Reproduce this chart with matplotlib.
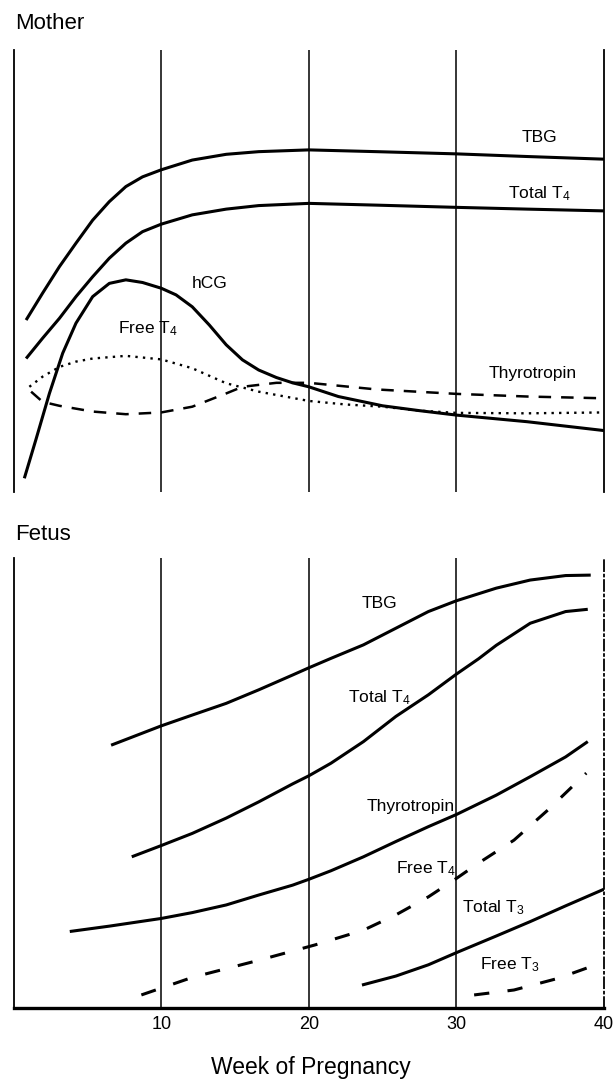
import matplotlib
matplotlib.use("Agg")
import matplotlib.pyplot as plt

plt.rcParams["font.family"] = ["Liberation Sans", "DejaVu Sans"]
plt.rcParams["mathtext.default"] = "regular"

# relative levels (0-100 of panel height), x = week of pregnancy
# --- mother ---
m_tbg_wk = [0.84, 1.96, 3.1, 4.22, 5.35, 6.48, 7.6, 8.73, 10, 12.1, 14.4, 16.6, 20, 24.6, 30, 34.8, 40]
m_tbg = [38.9, 45.0, 51.0, 56.3, 61.5, 65.7, 69.1, 71.3, 72.9, 75.1, 76.4, 77.0, 77.4, 77.0, 76.5, 75.9, 75.3]

m_tt4_wk = [0.84, 1.96, 3.1, 4.22, 5.35, 6.48, 7.6, 8.73, 10, 12.1, 14.4, 16.6, 20, 24.6, 30, 34.8, 40]
m_tt4 = [30.2, 34.8, 39.3, 44.2, 48.7, 52.9, 56.3, 58.9, 60.6, 62.7, 64.0, 64.8, 65.3, 64.9, 64.4, 64.0, 63.6]

m_hcg_wk = [0.72, 1.5, 2.42, 3.32, 4.22, 5.35, 6.48, 7.6, 8.73, 10, 11, 12.1, 13.25, 14.4, 15.5,
            16.6, 17.8, 18.9, 20, 22, 25, 27.5, 30, 34.8, 40]
m_hcg = [3.1, 11.8, 22.3, 31.4, 38.2, 44.2, 47.2, 48.0, 47.4, 46.1, 44.6, 41.9, 37.8, 33.3, 29.9,
         27.6, 25.9, 24.7, 23.8, 21.6, 19.5, 18.4, 17.4, 15.9, 13.9]

m_ft4_wk = [1.06, 1.96, 3.1, 4.22, 5.35, 7.6, 10, 12.1, 14.4, 16.6, 20, 22.5, 25, 27.5, 30, 34.8, 40]
m_ft4 = [23.8, 26.1, 28.3, 29.5, 30.2, 30.8, 30.0, 28.0, 24.6, 22.7, 20.6, 19.8, 19.3, 18.4, 17.9, 17.8, 18.0]

m_tsh_wk = [1.18, 1.96, 3.1, 5.35, 7.6, 10, 12.1, 14.4, 15.5, 17.8, 20, 24.6, 30, 34.8, 40]
m_tsh = [22.7, 20.4, 19.5, 18.2, 17.6, 18.0, 19.3, 22.3, 23.8, 24.7, 24.7, 23.2, 22.2, 21.6, 21.2]

# --- fetus ---
f_tbg_wk = [6.6, 10, 12.1, 14.4, 16.6, 18.9, 20, 21.5, 23.7, 25.9, 28.1, 30, 32.7, 35, 37.4, 39.1]
f_tbg = [58.4, 62.7, 65.1, 67.7, 70.7, 74.0, 75.6, 77.7, 80.7, 84.4, 88.1, 90.5, 93.3, 95.1, 96.1, 96.2]

f_tt4_wk = [8.0, 10, 12.1, 14.4, 16.6, 18.9, 20, 21.5, 23.7, 25.9, 28.1, 30, 31.5, 32.7, 35, 37.4, 38.9]
f_tt4 = [33.6, 36.1, 38.8, 42.2, 45.8, 49.8, 51.6, 54.4, 59.2, 64.8, 69.6, 74.2, 77.6, 80.6, 85.5, 88.1, 88.6]

f_tsh_wk = [3.8, 6.5, 10, 12.1, 14.4, 16.6, 18.9, 20, 21.5, 23.7, 25.9, 28.1, 30, 32.7, 35, 37.4, 38.9]
f_tsh = [17.0, 18.2, 19.9, 21.2, 22.9, 25.1, 27.3, 28.6, 30.5, 33.6, 37.0, 40.3, 43.0, 47.3, 51.4, 55.8, 59.2]

f_ft4_wk = [8.65, 12.1, 16.6, 20.4, 23.7, 25.9, 28.1, 30, 31.5, 33.9, 36.2, 38.8]
f_ft4 = [2.9, 6.8, 10.6, 14.0, 17.3, 20.7, 24.7, 28.8, 32.2, 37.3, 44.0, 52.2]

f_tt3_wk = [23.6, 25.9, 28.1, 30, 32.7, 35, 37.4, 40]
f_tt3 = [5.1, 7.1, 9.6, 12.3, 16.0, 19.2, 22.7, 26.4]

f_ft3_wk = [31.2, 33.9, 36.9, 39.7]
f_ft3 = [2.9, 4.0, 6.6, 9.9]

week_ticks = [10, 20, 30, 40]

SOLID = dict(color="black", lw=2.2, solid_capstyle="butt", solid_joinstyle="round")
LAB = dict(fontsize=12.5, ha="center", va="center")


def setup_panel(ax, bottom_spine):
    ax.set_xlim(0, 40)
    ax.set_ylim(0, 100)
    for x in week_ticks[:-1]:
        ax.axvline(x, color="black", lw=1.1)
    ax.spines["top"].set_visible(False)
    ax.spines["bottom"].set_visible(bottom_spine)
    ax.spines["left"].set_linewidth(1.3)
    ax.spines["right"].set_linewidth(1.3)
    ax.set_yticks([])


W, H = 613, 1084
fig = plt.figure(figsize=(W / 100, H / 100), dpi=100)
ax_m = fig.add_axes([13.7 / W, 1 - 492 / H, 590.3 / W, 442 / H])
ax_f = fig.add_axes([13.7 / W, 1 - 1008 / H, 590.3 / W, 450 / H])

fig.text(15 / W, 1 - 29 / H, "Mother", fontsize=16, ha="left", va="baseline")
fig.text(15 / W, 1 - 540 / H, "Fetus", fontsize=16, ha="left", va="baseline")

# mother
setup_panel(ax_m, False)
ax_m.set_xticks([])
ax_m.plot(m_tbg_wk, m_tbg, **SOLID)
ax_m.plot(m_tt4_wk, m_tt4, **SOLID)
ax_m.plot(m_hcg_wk, m_hcg, **SOLID)
ax_m.plot(m_ft4_wk, m_ft4, color="black", lw=1.7, linestyle=(0, (1, 2.2)))
ax_m.plot(m_tsh_wk, m_tsh, color="black", lw=1.8, linestyle=(0, (5, 4)))
ax_m.text(35.6, 80.1, "TBG", **LAB)
ax_m.text(35.6, 67.6, "Total T$_4$", **LAB)
ax_m.text(13.3, 47.2, "hCG", **LAB)
ax_m.text(9.1, 37.0, "Free T$_4$", **LAB)
ax_m.text(35.2, 26.9, "Thyrotropin", **LAB)

# fetus
setup_panel(ax_f, True)
ax_f.spines["bottom"].set_linewidth(2.4)
ax_f.spines["right"].set_linestyle((0, (6, 2, 1, 2)))
ax_f.plot(f_tbg_wk, f_tbg, **SOLID)
ax_f.plot(f_tt4_wk, f_tt4, **SOLID)
ax_f.plot(f_tsh_wk, f_tsh, **SOLID)
ax_f.plot(f_tt3_wk, f_tt3, **SOLID)
ax_f.plot(f_ft4_wk, f_ft4, color="black", lw=2.2, linestyle=(0, (5, 6)))
ax_f.plot(f_ft3_wk, f_ft3, color="black", lw=2.2, linestyle=(0, (5, 6)))
ax_f.text(24.8, 89.9, "TBG", **LAB)
ax_f.text(24.8, 69.0, "Total T$_4$", **LAB)
ax_f.text(26.9, 44.7, "Thyrotropin", **LAB)
ax_f.text(27.9, 31.0, "Free T$_4$", **LAB)
ax_f.text(32.5, 22.2, "Total T$_3$", **LAB)
ax_f.text(33.6, 9.6, "Free T$_3$", **LAB)

ax_f.set_xticks(week_ticks)
ax_f.set_xticklabels([str(w) for w in week_ticks])
ax_f.tick_params(axis="x", length=0, pad=6, labelsize=13)
fig.text(311 / W, 1 - 1074 / H, "Week of Pregnancy", fontsize=16.5, ha="center", va="baseline")

fig.savefig("out.png", dpi=100)
